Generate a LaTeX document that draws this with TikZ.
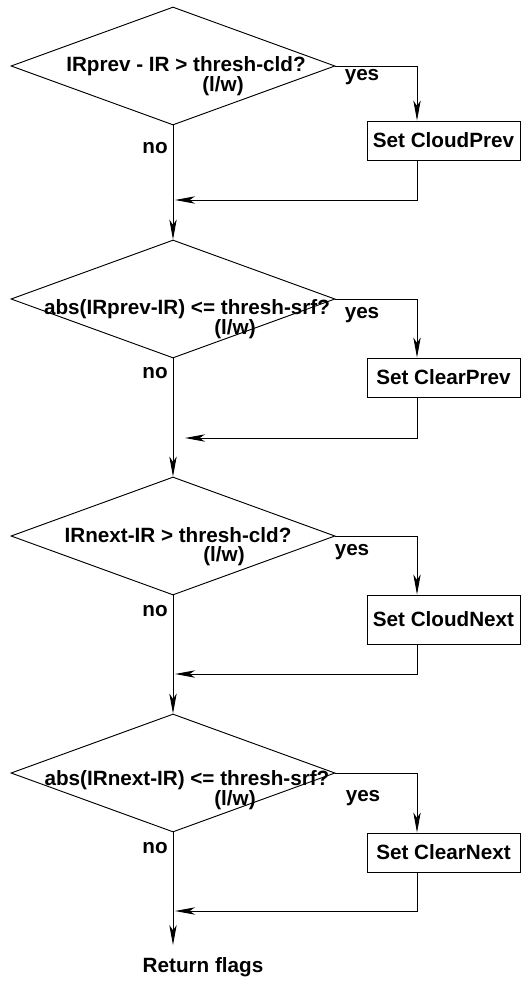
\documentclass[tikz,border=0pt]{standalone}
\usepackage{fontspec}
\setmainfont{Liberation Sans}
\usetikzlibrary{shapes.geometric, arrows.meta, positioning}

\begin{document}
\begin{tikzpicture}[x=0.75pt, y=-0.75pt, line width=0.7pt,
		>={Stealth[length=15pt, width=5.5pt, inset=4pt]},
		every node/.style={font=\bfseries\fontsize{15.5}{18}\selectfont, inner sep=0pt},
		test/.style={draw, diamond, minimum width=243pt, minimum height=88.5pt},
		setbox/.style={draw, rectangle, minimum width=114.75pt, minimum height=29.25pt}]
				\useasboundingbox (0,0) rectangle (528,981);
				%% first test
				\node[test] (cldprev) at (173,66) {};
				\node[anchor=base] (cldprevtxt) at (186,72) {IRprev - IR > thresh-cld?};
				\node[anchor=base] (cldprevlw) at (223,92) {(l/w)};
				\node[setbox] (setcldprev) at (443.5,140.5) {Set CloudPrev};
				\node[anchor=base] (yes1) at (362,80) {yes};
				\node[anchor=base] (no1) at (155,153) {no};
				\coordinate (turn1) at (417,66);
				\coordinate (back1) at (417,200);
				\draw [->] (cldprev.east) -- (turn1) -- (turn1 |- setcldprev.north);
				\draw [->] (turn1 |- setcldprev.south) -- (back1) -- ([xshift=1.5pt]back1 -| cldprev.south);
				
				%% second test
				\node[test] (srfprev) at (173,299) {};
				\node[anchor=base] (srfprevtxt) at (187,314) {abs(IRprev-IR) <= thresh-srf?};
				\node[anchor=base] (srfprevlw) at (235,334) {(l/w)};
				\node[setbox] (setclrprev) at (443.5,377.5) {Set ClearPrev};
				\node[anchor=base] (yes2) at (362,318) {yes};
				\node[anchor=base] (no2) at (155,378) {no};
				\coordinate (turn2) at (417,299);
				\coordinate (back2) at (417,438);
				\draw [->] (srfprev.east) -- (turn2) -- (turn2 |- setclrprev.north);
				\draw [->] (turn2 |- setclrprev.south) -- (back2) -- ([xshift=9pt]back2 -| srfprev.south);
				
				%% third test
				\node[test] (cldnext) at (173,536) {};
				\node[anchor=base] (cldnexttxt) at (178,542) {IRnext-IR > thresh-cld?};
				\node[anchor=base] (cldnextlw) at (224,561) {(l/w)};
				\node[setbox, minimum height=36.75pt] (setcldnext) at (443.5,619.5) {Set CloudNext};
				\node[anchor=base] (yes3) at (352,555) {yes};
				\node[anchor=base] (no3) at (155,616) {no};
				\coordinate (turn3) at (417,536);
				\coordinate (back3) at (417,674);
				\draw [->] (cldnext.east) -- (turn3) -- (turn3 |- setcldnext.north);
				\draw [->] (turn3 |- setcldnext.south) -- (back3) -- ([xshift=1.5pt]back3 -| cldnext.south);
				
				%% fourth test
				\node[test] (srfnext) at (173,773) {};
				\node[anchor=base] (srfnexttxt) at (187,785) {abs(IRnext-IR) <= thresh-srf?};
				\node[anchor=base] (srfnextlw) at (235,805) {(l/w)};
				\node[setbox] (setclrnext) at (443.5,852.5) {Set ClearNext};
				\node[anchor=base] (yes4) at (363,801) {yes};
				\node[anchor=base] (no4) at (155,853) {no};
				\coordinate (turn4) at (417,773);
				\coordinate (back4) at (417,911);
				\draw [->] (srfnext.east) -- (turn4) -- (turn4 |- setclrnext.north);
				\draw [->] (turn4 |- setclrnext.south) -- (back4) -- ([xshift=1.5pt]back4 -| srfnext.south);
				
				\node[anchor=base, outer ysep=9pt] (retflags) at (203,972) {Return flags};
				\draw [->] (cldprev.south) -- (srfprev.north);
				\draw [->] (srfprev.south) -- (cldnext.north);
				\draw [->] (cldnext.south) -- (srfnext.north);
				\draw [->] (srfnext.south) -- (srfnext.south |- retflags.north);
\end{tikzpicture}
\end{document}
